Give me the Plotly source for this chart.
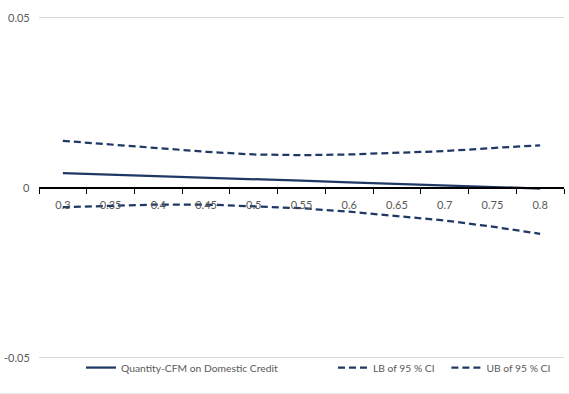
import plotly.graph_objects as go

# Threshold values on the horizontal (category) axis
thresholds = [0.3, 0.35, 0.4, 0.45, 0.5, 0.55, 0.6, 0.65, 0.7, 0.75, 0.8]

# Marginal effect and its 95% confidence band
effect = [0.0042, 0.0038, 0.0033, 0.0029, 0.0024, 0.0020, 0.0015, 0.0011, 0.0006, 0.0002, -0.0003]
lower_ci = [-0.0058, -0.0053, -0.0050, -0.0050, -0.0055, -0.0061, -0.0071, -0.0084, -0.0097, -0.0115, -0.0136]
upper_ci = [0.0137, 0.0126, 0.0114, 0.0105, 0.0097, 0.0095, 0.0097, 0.0102, 0.0107, 0.0116, 0.0124]

y_ticks = [-0.05, 0, 0.05]
y_tick_text = ["-0.05", "0", "0.05"]

NAVY = "#1f3864"
FONT = "Lato, 'Open Sans', sans-serif"
TEXT_GREY = "#595959"

half = 0.025
x_range = [thresholds[0] - half, thresholds[-1] + half]
boundaries = [round(thresholds[0] - half + 0.05 * i, 3) for i in range(len(thresholds) + 1)]
y_pad = 0.0004

fig = go.Figure()
fig.add_trace(go.Scatter(
    x=thresholds, y=effect, mode="lines", name="Quantity-CFM on Domestic Credit",
    line=dict(color=NAVY, width=2.25), legend="legend"))
fig.add_trace(go.Scatter(
    x=thresholds, y=lower_ci, mode="lines", name="LB of 95 % CI",
    line=dict(color=NAVY, width=2.25, dash="7px,4px"), legend="legend2"))
fig.add_trace(go.Scatter(
    x=thresholds, y=upper_ci, mode="lines", name="UB of 95 % CI",
    line=dict(color=NAVY, width=2.25, dash="7px,4px"), legend="legend3"))

# invisible trace that carries the boundary tick axis
fig.add_trace(go.Scatter(x=[x_range[0]], y=[0], xaxis="x2", mode="markers",
                         marker=dict(opacity=0), showlegend=False, hoverinfo="skip"))

legend_common = dict(orientation="h", yanchor="middle", y=-0.025, xanchor="left",
                     bgcolor="rgba(0,0,0,0)", itemwidth=30,
                     font=dict(family=FONT, size=10.3, color=TEXT_GREY))

# value-axis labels, right aligned just left of the plot area
y_labels = [dict(x=-0.013, xref="paper", xanchor="right", y=v, yref="y", yanchor="middle",
                 text=t, showarrow=False, font=dict(family=FONT, size=11, color=TEXT_GREY))
            for v, t in zip(y_ticks, y_tick_text)]

fig.update_layout(
    width=569, height=394,
    margin=dict(l=39, r=5, t=16, b=35),
    paper_bgcolor="white", plot_bgcolor="white",
    font=dict(family=FONT, size=11, color=TEXT_GREY),
    xaxis=dict(range=x_range, tickvals=thresholds, ticktext=[f"{v:g}" for v in thresholds],
               anchor="free", position=0.5, showline=True, linecolor="black", linewidth=1.5,
               ticks="outside", ticklen=8, tickcolor="rgba(0,0,0,0)",
               showgrid=False, zeroline=False, tickfont=dict(size=11, color=TEXT_GREY)),
    xaxis2=dict(range=x_range, overlaying="x", anchor="free", position=0.5,
                tickvals=boundaries, ticks="outside", ticklen=5, tickwidth=1.2,
                tickcolor="black", showticklabels=False, showgrid=False,
                zeroline=False, showline=False),
    yaxis=dict(range=[-0.05 - y_pad, 0.05 + y_pad], tickvals=y_ticks,
               showgrid=True, gridcolor="#d9d9d9", gridwidth=1, zeroline=False,
               showline=False, ticks="", showticklabels=False),
    legend=dict(**legend_common, x=0.08),
    legend2=dict(**legend_common, x=0.56),
    legend3=dict(**legend_common, x=0.776),
    annotations=y_labels,
    shapes=[dict(type="rect", xref="paper", yref="paper", x0=-0.1, x1=1.02,
                 y0=-0.12, y1=-0.1, fillcolor="#e3e3e3", line=dict(width=0),
                 layer="below")],
)

fig.write_html("out.html")
